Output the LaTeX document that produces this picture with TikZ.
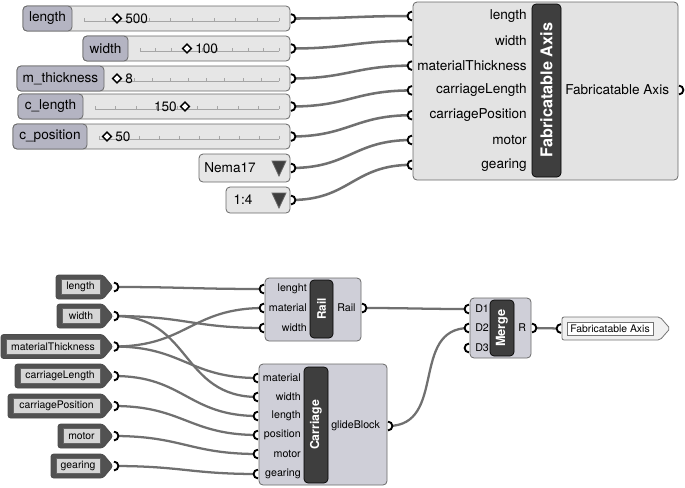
\documentclass[tikz,border=0pt]{standalone}
\usepackage{fontspec}
\setmainfont{TeX Gyre Heros}
\usetikzlibrary{positioning}
\pgfdeclarelayer{bg}
\pgfsetlayers{bg,main}
\definecolor{ghwire}{RGB}{112,112,112}
\definecolor{ghlab}{RGB}{180,180,194}
\definecolor{ghtrack}{RGB}{230,230,230}
\definecolor{ghbox}{RGB}{227,227,227}
\definecolor{ghcomp}{RGB}{207,207,216}
\definecolor{ghbar}{RGB}{62,62,62}
\definecolor{ghedge}{RGB}{105,105,105}
\definecolor{ghpar}{RGB}{82,82,82}
\definecolor{ghparin}{RGB}{214,214,214}

\newcommand\outport[1]{\draw[port]([yshift=3.3pt]#1)arc(90:-90:3.3pt);}
\newcommand\inport[1]{\draw[port]([yshift=3.3pt]#1)arc(90:270:3.3pt);}
\newcommand\ghslider[8]{%
  \draw[sliderbox](#3,#5)rectangle(290,#5+25);
  \draw[sliderlab](#3,#5)rectangle(#4,#5+25);
  \node[txt](#1)at({(#3+#4)/2},#5+12.5){#2};
  \draw[tick](#4+12,#5+15)--(279,#5+15);
  \foreach \k in {0,...,9}\draw[tick]({#4+12+\k*(267-#4)/9},#5+15)--++(0,-3.5);
  \node[knob](#1-k)at(#6,#5+12.5){};
  \node[txt,#8=6pt of #1-k.center](#1-v){#7};
  \coordinate(#1-o)at(291,#5+12.5);\outport{#1-o}}
\newcommand\ghparam[4]{%
  \draw[parbody](#3,#4-12)--(103,#4-12)--(113,#4)--(103,#4+12)--(#3,#4+12)--cycle;
  \draw[parin](#3+5,#4-7.5)rectangle(100,#4+7.5);
  \node[ptxt](#1)at({(#3+105)/2},#4){#2};
  \coordinate(#1-o)at(114,#4);\outport{#1-o}}

\begin{document}
\begin{tikzpicture}[x=0.75pt,y=-0.75pt,
    txt/.style={inner sep=0pt,font=\fontsize{10.2}{12}\selectfont},
    stxt/.style={inner sep=0pt,font=\fontsize{8}{9}\selectfont},
    ptxt/.style={inner sep=0pt,font=\fontsize{7.8}{9}\selectfont},
    bartxt/.style={inner sep=0pt,text=white,rotate=90},
    sliderbox/.style={draw=ghedge,fill=ghtrack,line width=0.6pt,rounded corners=3pt},
    sliderlab/.style={draw=ghedge,fill=ghlab,line width=0.6pt,rounded corners=3pt},
    tick/.style={draw=black!35,line width=0.35pt},
    knob/.style={draw=black,fill=white,line width=1pt,rotate=45,minimum size=4.6pt,inner sep=0pt},
    port/.style={draw=black,fill=white,line width=1.4pt},
    box/.style={draw=ghedge,fill=ghbox,line width=0.6pt,rounded corners=3pt},
    comp/.style={draw=ghedge,fill=ghcomp,line width=0.6pt,rounded corners=3pt},
    bar/.style={draw=black,fill=ghbar,line width=0.5pt,rounded corners=3pt},
    parbody/.style={draw=black!70,fill=ghpar,line width=0.6pt,rounded corners=2pt},
    parin/.style={draw=black!60,fill=ghparin,line width=0.5pt},
    wire/.style={draw=ghwire,line width=1.9pt,out=0,in=180,looseness=1.2},
    swire/.style={wire,line width=1.7pt}]
  \useasboundingbox(0,0)rectangle(685,487);
  % number sliders and value lists
  \ghslider{len}{length}{23}{72}{6}{117}{500}{right}
  \ghslider{wid}{width}{83}{128}{36}{187}{100}{right}
  \ghslider{mth}{m\_thickness}{17}{104}{66}{117}{8}{right}
  \ghslider{cl}{c\_length}{18}{83}{94}{185}{150}{left}
  \ghslider{cp}{c\_position}{13}{87}{124}{107}{50}{right}
  \draw[sliderbox](199,154)rectangle(290,182);
  \node[txt](nema)at(230,168){Nema17};
  \draw[fill=ghbar,draw=black!60,line width=0.6pt](272,161)--(286,161)--(279,176)--cycle;
  \coordinate(nema-o)at(291,168);\outport{nema-o}
  \draw[sliderbox](226,187)rectangle(290,213);
  \node[txt](gr)at(243,200){1:4};
  \draw[fill=ghbar,draw=black!60,line width=0.6pt](272,193)--(286,193)--(279,208)--cycle;
  \coordinate(gr-o)at(291,200);\outport{gr-o}
  % cluster
  \draw[box](413,2)rectangle(678,180);
  \draw[bar](532,4)rectangle(561,177);
  \node[bartxt,font=\bfseries\fontsize{12.2}{14}\selectfont](axis)at(546.5,90){Fabricatable Axis};
  \foreach \n/\t [count=\i from 0] in {len/length,wid/width,mat/materialThickness,clen/carriageLength,cpos/carriagePosition,mot/motor,gear/gearing}{
    \node[txt,anchor=east](ax-\n)at(527,16+24.8*\i){\t};
    \coordinate(ax-\n-i)at(412,16+24.8*\i);\inport{ax-\n-i}}
  \node[txt,anchor=west](axout)at(565,90){Fabricatable Axis};
  \coordinate(axout-o)at(679,90);\outport{axout-o}
  \begin{pgfonlayer}{bg}
    \foreach \a/\b in {len/len,wid/wid,mth/mat,cl/clen,cp/cpos,nema/mot,gr/gear}
      \draw[wire](\a-o)to(ax-\b-i);
  \end{pgfonlayer}
  % inside the cluster
  \ghparam{p-len}{length}{56}{287}
  \ghparam{p-wid}{width}{57}{316}
  \ghparam{p-mt}{materialThickness}{1}{346.5}
  \ghparam{p-cl}{carriageLength}{15}{376}
  \ghparam{p-cp}{carriagePosition}{8}{406}
  \ghparam{p-mo}{motor}{58}{436}
  \ghparam{p-ge}{gearing}{51}{466}
  \draw[comp](265,278)rectangle(361,341);
  \draw[bar](310,280)rectangle(333,338);
  \node[bartxt,font=\bfseries\fontsize{8.8}{10}\selectfont](rail)at(321.5,309){Rail};
  \foreach \n/\t/\y in {len/lenght/289,mat/material/308,wid/width/328}{
    \node[stxt,anchor=east](rail-\n)at(307,\y){\t};
    \coordinate(rail-\n-i)at(264,\y);\inport{rail-\n-i}}
  \node[stxt,anchor=west](rail-out)at(337,308){Rail};
  \coordinate(rail-o)at(362,308);\outport{rail-o}
  \draw[comp](259,364)rectangle(387,485);
  \draw[bar](304,367)rectangle(328,483);
  \node[bartxt,font=\bfseries\fontsize{9.2}{10}\selectfont](car)at(316,425){Carriage};
  \foreach \n/\t/\y in {mat/material/378,wid/width/397,len/length/416,pos/position/435,mot/motor/454,gear/gearing/474}{
    \node[stxt,anchor=east](car-\n)at(301,\y){\t};
    \coordinate(car-\n-i)at(258,\y);\inport{car-\n-i}}
  \node[stxt,anchor=west](car-out)at(331,426){glideBlock};
  \coordinate(car-o)at(388,426);\outport{car-o}
  \draw[comp](470,298)rectangle(531,358);
  \draw[bar](490,300)rectangle(514,356);
  \node[bartxt,font=\bfseries\fontsize{9.5}{10}\selectfont](mg)at(502,328){Merge};
  \foreach \n/\y in {1/309,2/328,3/348}{
    \node[stxt,anchor=west](mg-d\n)at(475,\y){D\n};
    \coordinate(mg-d\n-i)at(469,\y);\inport{mg-d\n-i}}
  \node[stxt,anchor=west](mg-out)at(518,328){R};
  \coordinate(mg-o)at(532,328);\outport{mg-o}
  \draw[draw=black!55,fill=black!6,line width=0.6pt,rounded corners=1.5pt](562,317)--(660,317)--(670,328.5)--(660,340)--(562,340)--cycle;
  \draw[draw=black!55,fill=white,line width=0.5pt](567,322)rectangle(653,335);
  \node[ptxt](pan)at(610,328.5){Fabricatable Axis};
  \coordinate(pan-i)at(561,328.5);\inport{pan-i}
  \begin{pgfonlayer}{bg}
    \draw[swire](p-len-o)to(rail-len-i);
    \draw[swire](p-wid-o)to(rail-wid-i);
    \draw[swire](p-wid-o)to(car-wid-i);
    \draw[swire](p-mt-o)to(rail-mat-i);
    \draw[swire](p-mt-o)to(car-mat-i);
    \draw[swire](p-cl-o)to(car-len-i);
    \draw[swire](p-cp-o)to(car-pos-i);
    \draw[swire](p-mo-o)to(car-mot-i);
    \draw[swire](p-ge-o)to(car-gear-i);
    \draw[swire](rail-o)to(mg-d1-i);
    \draw[swire](car-o)to(mg-d2-i);
    \draw[swire](mg-o)to(pan-i);
  \end{pgfonlayer}
\end{tikzpicture}
\end{document}
